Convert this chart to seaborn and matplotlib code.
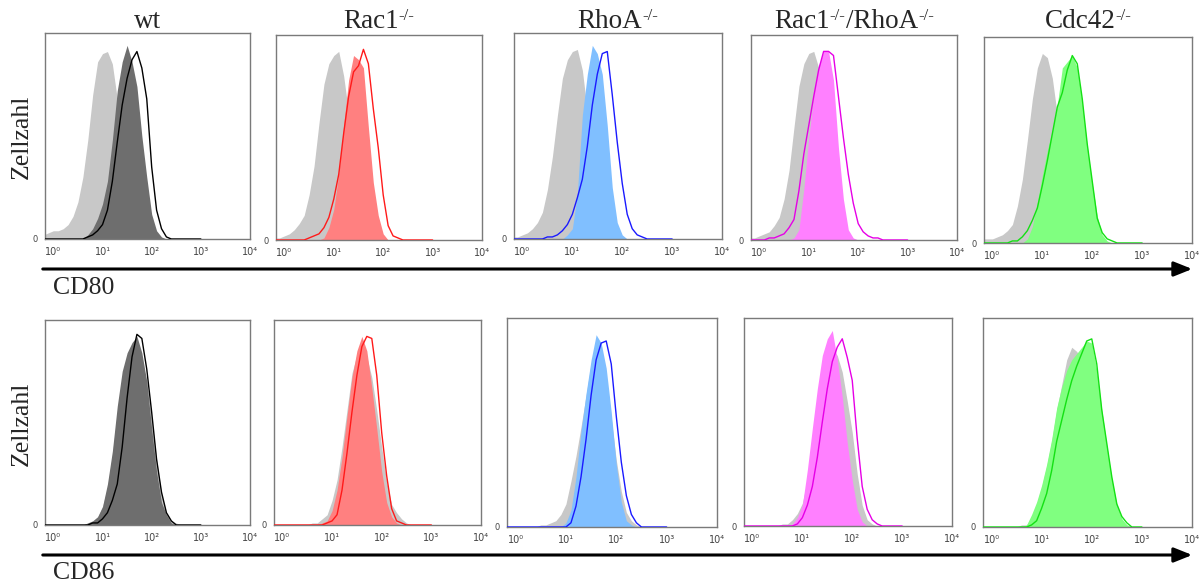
import matplotlib
matplotlib.use("Agg")
import matplotlib.pyplot as plt
from matplotlib.patches import FancyArrowPatch
from matplotlib.ticker import LogLocator, NullFormatter
import seaborn as sns

# log10 fluorescence channel of every histogram point
log_channel = [-0.2, -0.1, 0.0, 0.1, 0.2, 0.3, 0.4, 0.5, 0.6, 0.7, 0.8,
               0.9, 1.0, 1.1, 1.2, 1.3, 1.4, 1.5, 1.6, 1.7, 1.8, 1.9,
               2.0, 2.1, 2.2, 2.3, 2.4, 2.5, 2.6, 2.7, 2.8, 2.9, 3.0]

# column titles as (text, superscript?) pieces
genotypes = [
    [("wt", False)],
    [("Rac1", False), ("-/-", True)],
    [("RhoA", False), ("-/-", True)],
    [("Rac1", False), ("-/-", True), ("/RhoA", False), ("-/-", True)],
    [("Cdc42", False), ("-/-", True)],
]
markers = ["CD80", "CD86"]
tick_labels = ["10⁰", "10¹", "10²", "10³", "10⁴"]

# relative cell counts (fraction of panel height), order: wt, Rac1, RhoA, Rac1/RhoA, Cdc42
cd80_isotype = [
    [0.02, 0.03, 0.04, 0.04, 0.05, 0.07, 0.11, 0.18, 0.30, 0.48, 0.70, 0.86, 0.90, 0.91, 0.85, 0.68, 0.45,
     0.25, 0.12, 0.05, 0.02, 0.01, 0, 0, 0, 0, 0, 0, 0, 0, 0, 0, 0],
    [0.01, 0.01, 0.02, 0.03, 0.05, 0.08, 0.12, 0.22, 0.36, 0.57, 0.76, 0.86, 0.90, 0.92, 0.80, 0.62, 0.40,
     0.22, 0.10, 0.04, 0.01, 0, 0, 0, 0, 0, 0, 0, 0, 0, 0, 0, 0],
    [0.01, 0.01, 0.02, 0.03, 0.05, 0.08, 0.13, 0.24, 0.40, 0.60, 0.78, 0.87, 0.91, 0.92, 0.82, 0.62, 0.40,
     0.22, 0.10, 0.04, 0.01, 0, 0, 0, 0, 0, 0, 0, 0, 0, 0, 0, 0],
    [0.01, 0.01, 0.02, 0.03, 0.04, 0.07, 0.11, 0.20, 0.34, 0.55, 0.75, 0.86, 0.91, 0.92, 0.84, 0.64, 0.42,
     0.22, 0.10, 0.04, 0.01, 0, 0, 0, 0, 0, 0, 0, 0, 0, 0, 0, 0],
    [0.02, 0.02, 0.02, 0.03, 0.04, 0.06, 0.09, 0.18, 0.31, 0.50, 0.70, 0.85, 0.92, 0.90, 0.80, 0.62, 0.40,
     0.22, 0.10, 0.04, 0.01, 0, 0, 0, 0, 0, 0, 0, 0, 0, 0, 0, 0],
]
cd80_fill = [
    [0, 0, 0, 0, 0, 0, 0, 0, 0, 0.02, 0.05, 0.10, 0.17, 0.28, 0.48, 0.72, 0.86,
     0.94, 0.86, 0.74, 0.50, 0.30, 0.12, 0.04, 0.01, 0, 0, 0, 0, 0, 0, 0, 0],
    [0, 0, 0, 0, 0, 0, 0, 0, 0, 0, 0.01, 0.06, 0.15, 0.32, 0.56, 0.78, 0.90,
     0.88, 0.84, 0.55, 0.28, 0.12, 0.03, 0, 0, 0, 0, 0, 0, 0, 0, 0, 0],
    [0, 0, 0, 0, 0, 0, 0, 0, 0, 0, 0, 0.02, 0.05, 0.22, 0.60, 0.80, 0.94,
     0.90, 0.80, 0.55, 0.25, 0.08, 0.02, 0, 0, 0, 0, 0, 0, 0, 0, 0, 0],
    [0, 0, 0, 0, 0, 0, 0, 0, 0, 0.01, 0.05, 0.25, 0.50, 0.70, 0.85, 0.92, 0.92,
     0.78, 0.45, 0.20, 0.05, 0.01, 0, 0, 0, 0, 0, 0, 0, 0, 0, 0, 0],
    [0, 0, 0, 0, 0, 0, 0, 0, 0, 0.02, 0.08, 0.20, 0.33, 0.45, 0.55, 0.67, 0.85,
     0.88, 0.91, 0.85, 0.68, 0.47, 0.29, 0.13, 0.04, 0.01, 0, 0, 0, 0, 0, 0, 0],
]
cd80_line = [
    [0, 0, 0, 0, 0, 0, 0, 0, 0, 0.01, 0.02, 0.04, 0.07, 0.14, 0.28, 0.47, 0.65,
     0.78, 0.87, 0.91, 0.83, 0.68, 0.35, 0.14, 0.05, 0.01, 0, 0, 0, 0, 0, 0, 0],
    [0, 0, 0, 0, 0, 0, 0, 0.01, 0.02, 0.03, 0.06, 0.11, 0.20, 0.32, 0.52, 0.70, 0.82,
     0.85, 0.93, 0.86, 0.64, 0.45, 0.22, 0.07, 0.02, 0.01, 0, 0, 0, 0, 0, 0, 0],
    [0, 0, 0, 0, 0, 0, 0, 0.01, 0.01, 0.02, 0.04, 0.07, 0.12, 0.20, 0.29, 0.45, 0.65,
     0.80, 0.90, 0.91, 0.70, 0.47, 0.27, 0.12, 0.05, 0.02, 0.01, 0, 0, 0, 0, 0, 0],
    [0, 0, 0, 0, 0.01, 0.01, 0.02, 0.03, 0.06, 0.10, 0.24, 0.42, 0.56, 0.70, 0.83, 0.92, 0.92,
     0.90, 0.70, 0.50, 0.32, 0.18, 0.08, 0.04, 0.02, 0.01, 0.01, 0, 0, 0, 0, 0, 0],
    [0, 0, 0, 0, 0, 0, 0.01, 0.01, 0.03, 0.06, 0.11, 0.17, 0.28, 0.40, 0.53, 0.66, 0.73,
     0.84, 0.91, 0.87, 0.70, 0.48, 0.30, 0.12, 0.05, 0.02, 0.01, 0, 0, 0, 0, 0, 0],
]
cd86_isotype = [
    [0, 0, 0, 0, 0, 0, 0, 0, 0, 0.01, 0.02, 0.04, 0.09, 0.18, 0.34, 0.55, 0.70,
     0.78, 0.84, 0.85, 0.80, 0.70, 0.52, 0.32, 0.15, 0.06, 0.02, 0.01, 0, 0, 0, 0, 0],
    [0, 0, 0, 0, 0, 0, 0, 0, 0.01, 0.01, 0.03, 0.05, 0.12, 0.22, 0.38, 0.56, 0.74,
     0.83, 0.85, 0.82, 0.72, 0.56, 0.38, 0.21, 0.10, 0.06, 0.03, 0.01, 0, 0, 0, 0, 0],
    [0, 0, 0, 0, 0, 0, 0, 0.01, 0.01, 0.02, 0.03, 0.06, 0.11, 0.22, 0.34, 0.48, 0.63,
     0.78, 0.88, 0.84, 0.72, 0.52, 0.32, 0.17, 0.07, 0.03, 0.01, 0, 0, 0, 0, 0, 0],
    [0, 0, 0, 0, 0, 0, 0, 0, 0.01, 0.01, 0.03, 0.06, 0.11, 0.22, 0.38, 0.56, 0.72,
     0.82, 0.85, 0.82, 0.74, 0.60, 0.45, 0.25, 0.10, 0.03, 0.01, 0, 0, 0, 0, 0, 0],
    [0, 0, 0, 0, 0, 0, 0, 0, 0.01, 0.01, 0.05, 0.11, 0.19, 0.29, 0.41, 0.56, 0.68,
     0.80, 0.86, 0.84, 0.80, 0.83, 0.80, 0.70, 0.52, 0.35, 0.20, 0.09, 0.03, 0.01, 0, 0, 0],
]
cd86_fill = [
    [0, 0, 0, 0, 0, 0, 0, 0, 0, 0.01, 0.02, 0.04, 0.09, 0.20, 0.36, 0.58, 0.75,
     0.84, 0.89, 0.92, 0.84, 0.70, 0.47, 0.26, 0.11, 0.05, 0.01, 0, 0, 0, 0, 0, 0],
    [0, 0, 0, 0, 0, 0, 0, 0, 0, 0, 0.01, 0.02, 0.07, 0.17, 0.33, 0.53, 0.72,
     0.85, 0.92, 0.85, 0.67, 0.47, 0.26, 0.11, 0.04, 0.01, 0, 0, 0, 0, 0, 0, 0],
    [0, 0, 0, 0, 0, 0, 0, 0, 0, 0, 0, 0, 0.02, 0.08, 0.24, 0.46, 0.64,
     0.80, 0.92, 0.88, 0.76, 0.55, 0.30, 0.12, 0.03, 0.01, 0, 0, 0, 0, 0, 0, 0],
    [0, 0, 0, 0, 0, 0, 0, 0, 0, 0, 0.01, 0.04, 0.10, 0.27, 0.47, 0.66, 0.82,
     0.90, 0.94, 0.80, 0.62, 0.40, 0.22, 0.08, 0.02, 0, 0, 0, 0, 0, 0, 0, 0],
    [0, 0, 0, 0, 0, 0, 0, 0, 0, 0.01, 0.06, 0.12, 0.20, 0.30, 0.42, 0.57, 0.67,
     0.75, 0.80, 0.83, 0.86, 0.89, 0.88, 0.75, 0.56, 0.39, 0.23, 0.11, 0.04, 0.01, 0, 0, 0],
]
cd86_line = [
    [0, 0, 0, 0, 0, 0, 0, 0, 0, 0, 0.01, 0.01, 0.03, 0.06, 0.12, 0.20, 0.38,
     0.62, 0.82, 0.93, 0.91, 0.76, 0.55, 0.32, 0.16, 0.06, 0.02, 0, 0, 0, 0, 0, 0],
    [0, 0, 0, 0, 0, 0, 0, 0, 0, 0, 0, 0.01, 0.02, 0.05, 0.17, 0.35, 0.55,
     0.73, 0.87, 0.92, 0.91, 0.73, 0.45, 0.24, 0.08, 0.02, 0.01, 0, 0, 0, 0, 0, 0],
    [0, 0, 0, 0, 0, 0, 0, 0, 0, 0, 0, 0, 0, 0.02, 0.10, 0.24, 0.42,
     0.63, 0.80, 0.88, 0.89, 0.78, 0.53, 0.31, 0.15, 0.06, 0.02, 0, 0, 0, 0, 0, 0],
    [0, 0, 0, 0, 0, 0, 0, 0, 0, 0, 0, 0.01, 0.04, 0.10, 0.19, 0.33, 0.50,
     0.66, 0.79, 0.86, 0.90, 0.81, 0.70, 0.42, 0.19, 0.08, 0.03, 0.01, 0, 0, 0, 0, 0],
    [0, 0, 0, 0, 0, 0, 0, 0, 0, 0, 0.01, 0.03, 0.09, 0.16, 0.27, 0.41, 0.51,
     0.61, 0.70, 0.77, 0.83, 0.89, 0.90, 0.78, 0.56, 0.40, 0.24, 0.11, 0.05, 0.02, 0, 0, 0],
]

fill_colors = ["#6e6e6e", "#ff8080", "#80bfff", "#ff80ff", "#80ff80"]
line_colors = ["#000000", "#ff1a1a", "#1a1aff", "#e600e6", "#14e014"]
iso_color = "#c8c8c8"

# panel boxes in pixels: left, right, top, bottom
W, H = 1203, 586
boxes = [
    [(45, 250, 33, 239), (276, 482, 35, 240), (514, 722, 33, 239),
     (751, 957, 35, 240), (984, 1192, 37, 243)],
    [(45, 250, 320, 525), (274, 481, 320, 525), (507, 717, 318, 527),
     (744, 952, 318, 526), (983, 1192, 318, 527)],
]

sns.set_style("white")
plt.rcParams["font.family"] = ["DejaVu Sans"]
serif = "Liberation Serif"

channel = [10 ** v for v in log_channel]
data = [(cd80_isotype, cd80_fill, cd80_line), (cd86_isotype, cd86_fill, cd86_line)]

fig = plt.figure(figsize=(W / 100, H / 100), dpi=100)
renderer = fig.canvas.get_renderer()


def rich_title(cx, baseline, pieces):
    # lay out text pieces side by side, superscripts smaller and raised
    items = []
    for txt, sup in pieces:
        t = fig.text(0, 0, txt, fontsize=12 if sup else 19.5, family=serif, va="baseline")
        items.append((t, t.get_window_extent(renderer).width, sup))
    x = cx - sum(w for _, w, _ in items) / 2
    for t, w, sup in items:
        y = baseline - 8 if sup else baseline
        t.set_position((x / W, 1 - y / H))
        x += w


for row in range(2):
    iso_set, fill_set, line_set = data[row]
    for col in range(5):
        assert len(iso_set[col]) == len(fill_set[col]) == len(line_set[col]) == len(log_channel)
        l, r, t, b = boxes[row][col]
        ax = fig.add_axes([l / W, 1 - b / H, (r - l) / W, (b - t) / H])
        ax.set_xscale("log")
        ax.fill_between(channel, iso_set[col], color=iso_color, lw=0, zorder=1)
        ax.fill_between(channel, fill_set[col], color=fill_colors[col], lw=0, zorder=2)
        sns.lineplot(x=channel, y=line_set[col], ax=ax, color=line_colors[col],
                     linewidth=1.0, estimator=None, zorder=3)
        ax.set_xlim(10 ** -0.17, 10 ** 4)
        ax.set_ylim(0, 1)
        ax.set_xticks([1, 10, 100, 1000, 10000])
        ax.set_xticklabels(tick_labels)
        ax.xaxis.set_minor_locator(LogLocator(base=10, subs=range(2, 10)))
        ax.xaxis.set_minor_formatter(NullFormatter())
        ax.tick_params(axis="x", which="major", direction="out", length=4, width=0.8,
                       color="#333333", labelsize=7, labelcolor="#444444", pad=2)
        ax.tick_params(axis="x", which="minor", direction="out", length=2.5, width=0.6,
                       color="#333333")
        ax.set_yticks([0])
        ax.set_yticklabels(["0"])
        ax.tick_params(axis="y", direction="out", length=3, width=0.6, color="#333333",
                       labelsize=6, labelcolor="#444444", pad=2)
        ax.set_xlabel("")
        ax.set_ylabel("")
        for side in ["top", "right", "left", "bottom"]:
            ax.spines[side].set_visible(True)
            ax.spines[side].set_color("#7a7a7a")
            ax.spines[side].set_linewidth(1.0)
        if row == 0:
            rich_title((l + r) / 2, 28, genotypes[col])

# row annotations: y label, marker name, axis arrow
for row, (ylab_y, mark_y, arrow_y) in enumerate([(137, 288, 269), (424, 573, 555)]):
    fig.text(22 / W, 1 - ylab_y / H, "Zellzahl", rotation=90, ha="center", va="center",
             fontsize=18.5, family=serif)
    fig.text(53 / W, 1 - mark_y / H, markers[row], ha="left", va="center",
             fontsize=18.5, family=serif)
    arrow = FancyArrowPatch((40 / W, 1 - arrow_y / H), (1195 / W, 1 - arrow_y / H),
                            transform=fig.transFigure,
                            arrowstyle="-|>,head_length=0.55,head_width=0.22",
                            mutation_scale=20, lw=2.2, color="black")
    fig.add_artist(arrow)

fig.savefig("out.png", dpi=100)
